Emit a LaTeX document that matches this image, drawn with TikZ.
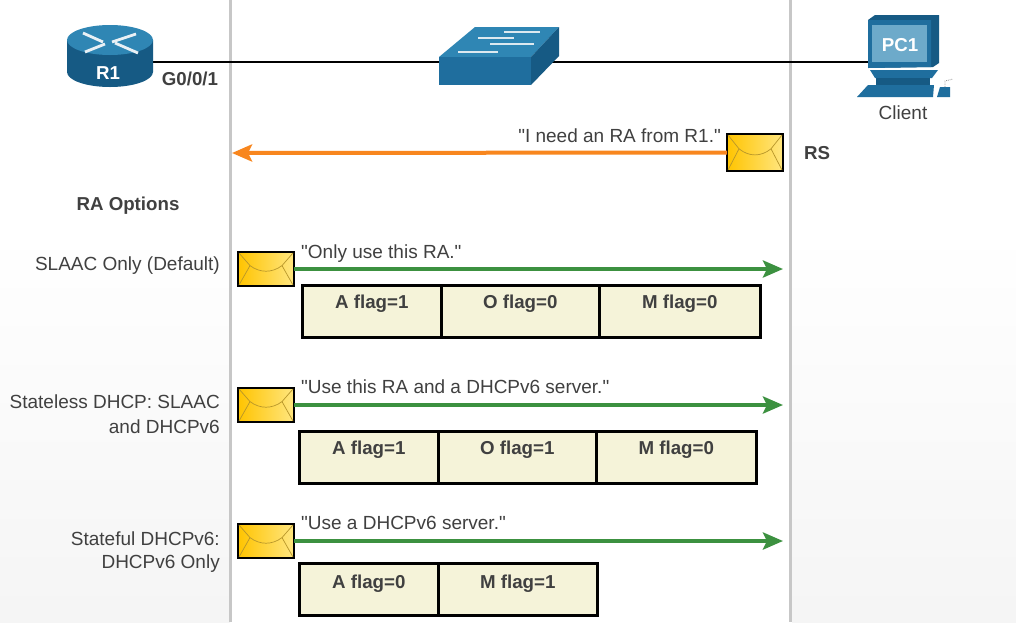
\documentclass[tikz,border=0pt]{standalone}
\usepackage{fontspec}
\newfontfamily\labelfont{Liberation Sans}
\usetikzlibrary{arrows.meta}
\definecolor{ciscoblue}{HTML}{1F6E9E}
\definecolor{ciscodark}{HTML}{165A84}
\definecolor{ciscolight}{HTML}{2F86B4}
\definecolor{flagfill}{HTML}{F5F3D9}
\definecolor{textgray}{HTML}{404040}
\definecolor{greenline}{HTML}{3C9140}
\definecolor{orangeline}{HTML}{F8861E}
\definecolor{envleft}{HTML}{FFC400}
\definecolor{envright}{HTML}{FFE680}
\definecolor{envflap}{HTML}{B8962A}
\tikzset{
	txt/.style={font=\labelfont\fontsize{19}{22}\selectfont, text=textgray, inner sep=0pt},
	boldtxt/.style={txt, font=\labelfont\fontsize{18.7}{22}\selectfont\bfseries},
	flagcell/.style={draw=black, line width=2.6pt, fill=flagfill, anchor=north west, inner sep=0pt, text=textgray,
		font=\labelfont\fontsize{18.7}{22}\selectfont\bfseries, text height=23pt, text depth=29pt},
	raline/.style={line width=4pt, -{Stealth[length=20pt,width=17pt,inset=4pt]}},
}
% #1 name, #2 left, #3 top, #4 height
\newcommand{\makeenvelope}[4]{
	\coordinate (#1east) at (#2+56,#3+#4/2);
	\coordinate (#1west) at (#2,#3+#4/2);
	\draw[line width=1.2pt, draw=black, left color=envleft, right color=envright]
		(#2,#3) rectangle ++(56,#4);
	\draw[envflap, line width=0.7pt] (#2+1,#3+1) -- (#2+12,#3+#4*0.4) .. controls (#2+22,#3+#4*0.62) and (#2+34,#3+#4*0.62) .. (#2+44,#3+#4*0.4) -- (#2+55,#3+1);
	\draw[envflap, line width=0.7pt] (#2+1,#3+#4-1) -- (#2+12,#3+#4*0.4) (#2+55,#3+#4-1) -- (#2+44,#3+#4*0.4);
	\draw[black, line width=1.6pt] (#2,#3+#4) -- ++(56,0);
}
\begin{document}
\begin{tikzpicture}[x=1pt,y=-1pt]
	\useasboundingbox (0,0) rectangle (1016,622);
	\fill[white] (0,0) rectangle (1016,622);
	\shade[top color=white, bottom color=black!4] (0,230) rectangle (230,622);
	\shade[top color=white, bottom color=black!4] (792,230) rectangle (1016,622);
	\draw[black!22, line width=3pt] (230,0) -- (230,622);
	\draw[black!22, line width=3pt] (790,0) -- (790,622);

	\coordinate (R1port) at (150,62);
	\coordinate (SW) at (500,62);
	\coordinate (PCport) at (870,62);
	\draw[black, line width=2.8pt] (R1port) -- (SW) -- (PCport);

	% router
	\fill[ciscodark] (67,40) -- (67,72) arc[start angle=180,end angle=0,x radius=43,y radius=15] -- (153,40) -- cycle;
	\fill[ciscolight] (110,40) ellipse[x radius=43,y radius=15];
	\begin{scope}[white!90!ciscoblue, line width=2.8pt]
		\draw (83,33) -- (103,42);
		\draw (136,34) -- (112,42);
		\draw (85,52) -- (105,44);
		\draw (138,53) -- (115,43);
	\end{scope}
	\node[boldtxt, text=white] (R1) at (108,73) {R1};
	\node[boldtxt] (G001) at (190,79) {G0/0/1};

	% switch
	\fill[ciscolight] (439,57) -- (475,27) -- (559,27) -- (531,57) -- cycle;
	\fill[ciscodark] (531,57) -- (559,27) -- (559,56) -- (531,85) -- cycle;
	\fill[ciscoblue] (439,57) rectangle (531,85);
	\begin{scope}[white!85!ciscoblue, line width=2pt]
		\draw (504,32) -- (540,32);
		\draw (478,38) -- (514,38);
		\draw (490,44) -- (534,44);
		\draw (458,52) -- (498,52);
	\end{scope}

	% client
	\fill[ciscodark] (868,20) -- (875,15) -- (939,15) -- (939,63) -- (933,67) -- (868,68) -- cycle;
	\fill[ciscoblue] (868,20) -- (931,20) -- (931,67) -- (868,68) -- cycle;
	\fill[ciscolight!70!white] (872,25) rectangle (927,62);
	\node[boldtxt, text=white] (PC1) at (900,45) {PC1};
	\fill[ciscoblue] (870,70) -- (938,70) -- (932,78) -- (875,78) -- cycle;
	\fill[ciscodark] (876,78) rectangle (930,85);
	\fill[ciscoblue] (868,85) -- (934,85) -- (933,97) -- (857,97) -- cycle;
	\fill[ciscoblue] (937,97) -- (940,87) -- (950,87) -- (950,97) -- cycle;
	\draw[black!45, densely dotted, line width=0.8pt] (945,87) -- (945,81) -- (953,79);
	\node[txt] (Client) at (903,113) {Client};

	% router solicitation
	\node[txt, anchor=east] (RStext) at (721,136) {"I need an RA from R1."};
	\makeenvelope{rs}{727}{134}{37}
	\coordinate (RSend) at (232,153);
	\draw[raline, orangeline] (rswest) -- (RSend);
	\node[boldtxt] (RS) at (817,153) {RS};
	\node[boldtxt] (RAopt) at (128,206) {RA Options};

	% SLAAC
	\node[txt, anchor=east] (opt1) at (220,266) {SLAAC Only (Default)};
	\node[txt, anchor=west] (quote1) at (301,254) {"Only use this RA."};
	\makeenvelope{ra1}{238}{252}{34}
	\coordinate (end1) at (783,269);
	\draw[raline, greenline] (ra1east) -- (end1);
	\node[flagcell, minimum width=139pt] (A1) at (301,284) {A flag=1};
	\node[flagcell, minimum width=158pt] (O1) at (440,284) {O flag=0};
	\node[flagcell, minimum width=161pt] (M1) at (598,284) {M flag=0};

	% stateless
	\node[txt, anchor=east] (opt2a) at (220,402) {Stateless DHCP: SLAAC};
	\node[txt, anchor=east] (opt2b) at (220,427) {and DHCPv6};
	\node[txt, anchor=west] (quote2) at (301,387) {"Use this RA and a DHCPv6 server."};
	\makeenvelope{ra2}{238}{388}{34}
	\coordinate (end2) at (783,405);
	\draw[raline, greenline] (ra2east) -- (end2);
	\node[flagcell, minimum width=139pt] (A2) at (298,430) {A flag=1};
	\node[flagcell, minimum width=158pt] (O2) at (437,430) {O flag=1};
	\node[flagcell, minimum width=160pt] (M2) at (595,430) {M flag=0};

	% stateful
	\node[txt, anchor=east] (opt3a) at (220,539) {Stateful DHCPv6:};
	\node[txt, anchor=east] (opt3b) at (220,564) {DHCPv6 Only};
	\node[txt, anchor=west] (quote3) at (301,523) {"Use a DHCPv6 server."};
	\makeenvelope{ra3}{238}{524}{34}
	\coordinate (end3) at (783,541);
	\draw[raline, greenline] (ra3east) -- (end3);
	\node[flagcell, minimum width=139pt, text height=25pt, text depth=27pt] (A3) at (298,562) {A flag=0};
	\node[flagcell, minimum width=159pt, text height=25pt, text depth=27pt] (M3) at (437,562) {M flag=1};
\end{tikzpicture}
\end{document}
